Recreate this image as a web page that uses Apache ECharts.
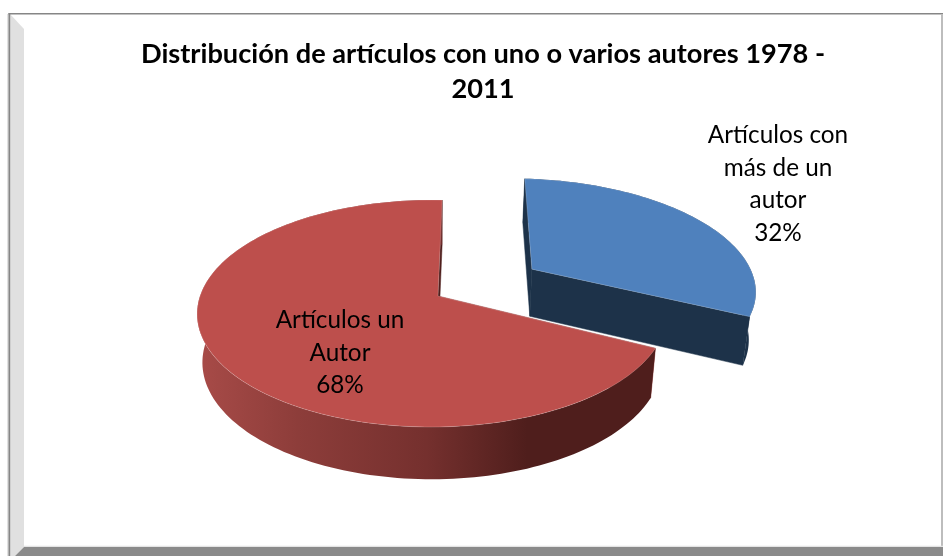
<!DOCTYPE html>
<html><head><meta charset="utf-8">
<style>html,body{margin:0;padding:0;background:#fff}#c{width:943px;height:556px}</style>
<script src="https://cdn.jsdelivr.net/npm/echarts@6/dist/echarts.min.js"></script>
</head><body><div id="c"></div>
<script>
const titleText = "Distribución de artículos con uno o varios autores 1978 -\n2011";
const categories = ["Artículos con\nmás de un\nautor", "Artículos un\nAutor"];
const values = [32, 68];
const exploded = [0.495, 0];
const radiusScale = [1.025, 1];
const topColors = ["#4f81bd", "#bd4f4c"];
const wallColors = ["#1d3249", "#4f1e1c"];
const innerColors = ["#1d3249", "#8c3a38"];
const labelAnchors = [[778, 184], [340, 353]];

const chart = echarts.init(document.getElementById('c'), null, {renderer:'canvas'});
const G = {cx:438, cy:296, rx:232, ry:110.8, p:0.154, q:0.025, start:1.5, depth:48, shrink:0.978};
const total = values.reduce((a,b)=>a+b,0);
function proj(X, Y, low){
  const w = 1 + G.p*Y + G.q*X;
  const sx = G.rx*X/w, sy = G.ry*Y/w;
  if(!low) return [G.cx+sx, G.cy-sy];
  return [G.cx+sx*G.shrink, G.cy-sy+G.depth/Math.sqrt(1+G.p*Y)];
}
function renderItem(params, api){
  const i = params.dataIndex;
  const v = api.value(0);
  let before = 0; for(let k=0;k<i;k++) before += values[k];
  const a0 = G.start + before/total*360, a1 = a0 + v/total*360;
  const mid = (a0+a1)/2*Math.PI/180, d = exploded[i], r = radiusScale[i];
  const ox = d*Math.sin(mid), oy = d*Math.cos(mid);
  const rim = [];
  for(let a=a0;a<=a1+1e-6;a+=1.5){ const t=a*Math.PI/180; rim.push([ox+r*Math.sin(t), oy+r*Math.cos(t)]); }
  const apex=[ox,oy];
  const quad=(A,B,fill)=>({type:'polygon',shape:{points:[proj(A[0],A[1]),proj(B[0],B[1]),proj(B[0],B[1],true),proj(A[0],A[1],true)]},style:{fill,stroke:fill,lineWidth:0.5},silent:true});
  const children=[];
  children.push(quad(apex,rim[0],innerColors[i]));
  children.push(quad(apex,rim[rim.length-1],wallColors[i]));
  const up = rim.map(q=>proj(q[0],q[1])), lo = rim.map(q=>proj(q[0],q[1],true)).reverse();
  const grad = i===1
    ? new echarts.graphic.LinearGradient(0,0,1,0,[{offset:0,color:'#a84b48'},{offset:0.22,color:'#8d3d3a'},{offset:0.5,color:'#75302e'},{offset:0.72,color:'#4f1e1c'},{offset:1,color:'#4f1e1c'}])
    : wallColors[i];
  children.push({type:'polygon',shape:{points:up.concat(lo)},style:{fill:grad},silent:true});
  children.push({type:'polygon',shape:{points:[proj(apex[0],apex[1])].concat(up)},style:{fill:topColors[i],stroke:'rgba(255,255,255,0.3)',lineWidth:0.6},silent:true});
  return {type:'group',children};
}
function labelItem(params, api){
  const i = params.dataIndex;
  return {type:'text',x:labelAnchors[i][0],y:labelAnchors[i][1],silent:true,
    style:{text:categories[i]+"\n"+api.value(0)+"%",font:"24.3px Lato",fill:"#000",align:'center',verticalAlign:'middle',lineHeight:32.5}};
}
const frame = [
  {type:'polygon',shape:{points:[[10,14],[24,29],[24,547],[15,556],[10,556]]},style:{fill:'#e0e0e0'},z:1},
  {type:'rect',shape:{x:7.5,y:14,width:1,height:542},style:{fill:'#c4c4c4'},z:2},
  {type:'rect',shape:{x:8.5,y:13,width:935,height:1.5},style:{fill:'#868686'},z:2},
  {type:'rect',shape:{x:8.5,y:13,width:1.7,height:543},style:{fill:'#868686'},z:2},
  {type:'rect',shape:{x:941,y:14,width:2,height:533},style:{fill:'#bdbdbd'},z:2},
  {type:'rect',shape:{x:24,y:545.7,width:919,height:1.3},style:{fill:'#e4e4e4'},z:2},
  {type:'polygon',shape:{points:[[24,547],[943,547],[943,556],[15,556]]},style:{fill:'#8a8a8a'},z:2}
];
chart.setOption({
  animation:false,
  backgroundColor:'#fff',
  title:{text:titleText,left:478,top:32,textAlign:'center',
    textStyle:{fontFamily:'Lato',fontWeight:'bold',fontSize:27.2,color:'#000',lineHeight:35}},
  graphic:frame,
  series:[
    {type:'custom',coordinateSystem:'none',z:3,data:values.map(v=>[v]),renderItem,silent:true},
    {type:'custom',coordinateSystem:'none',z:5,data:values.map(v=>[v]),renderItem:labelItem,silent:true}
  ]
});
</script></body></html>
